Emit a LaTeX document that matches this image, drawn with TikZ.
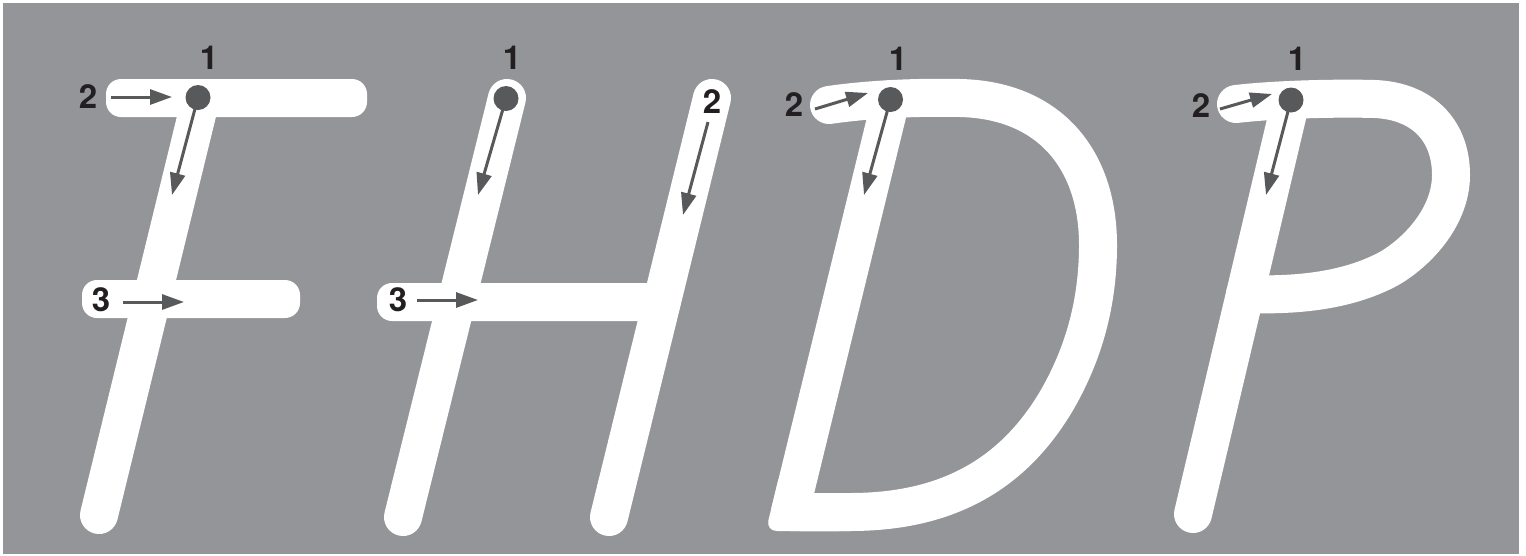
\documentclass[tikz,border=0pt]{standalone}
\usepackage{fontspec}
\setmainfont{TeX Gyre Heros}
\usetikzlibrary{arrows.meta}
\definecolor{bg}{RGB}{147,149,152}
\definecolor{ink}{RGB}{88,89,91}
\definecolor{numc}{RGB}{35,31,32}
\tikzset{
  letter/.style={draw=white, line width=38pt, line cap=round, line join=round},
  barbox/.style={fill=white, rounded corners=15pt},
  arr/.style={draw=ink, line width=3pt, -{Triangle[length=22pt,width=15pt]}},
  dotnode/.style={circle, fill=ink, minimum size=25pt, inner sep=0pt},
  num/.style={font=\bfseries\fontsize{33}{33}\selectfont, text=numc, inner sep=0pt}
}
\begin{document}
\begin{tikzpicture}[x=1pt,y=-1pt]
\useasboundingbox (0,0) rectangle (1526,555);
\fill[white] (0,0) rectangle (1526,555);
\fill[bg] (3,3) rectangle (1519,554);

% ---------- F ----------
\fill[barbox] (106,79) rectangle (367,117);
\fill[barbox] (82,280) rectangle (300,318);
\draw[letter] (201,98) -- (99,515);
% ---------- H ----------
\draw[letter] (507,98) -- (403,517);
\draw[letter] (712,98) -- (609,517);
\fill[barbox] (377,283) rectangle (660,321);
% ---------- D ----------
\draw[letter] (829,105) .. controls (870,99) and (920,97) .. (960,98)
  .. controls (1050,100) and (1098,160) .. (1098,245)
  .. controls (1098,310) and (1080,360) .. (1057,400)
  .. controls (1010,480) and (940,512) .. (850,512) -- (800,512);
\draw[letter] (891,99) -- (790,512) -- (850,512);
\fill[white, rounded corners=11pt] (780.7,470) -- (765.8,531) -- (850,531) -- (800,505) -- cycle;
% ---------- P ----------
\draw[letter] (1236,104) .. controls (1280,99) and (1340,98) .. (1375,99)
  .. controls (1422,101) and (1451,130) .. (1451,175)
  .. controls (1451,215) and (1420,250) .. (1390,268)
  .. controls (1350,290) and (1300,296) .. (1245,294);
\draw[letter] (1291,100) -- (1193,514);

% ---------- F marks ----------
\node[num] (f1) at (209,58) {1};
\node[num] (f2) at (88,97) {2};
\node[num] (f3) at (101,300) {3};
\node[dotnode] (fd) at (198,97.5) {};
\coordinate (f2s) at (111,97);
\coordinate (f2e) at (172,97);
\coordinate (fde) at (172,195);
\coordinate (f3s) at (123,302);
\coordinate (f3e) at (184,302);
\draw[arr] (f2s) -- (f2e);
\draw[arr] (fd.center) -- (fde);
\draw[arr] (f3s) -- (f3e);

% ---------- H marks ----------
\node[num] (h1) at (512,58) {1};
\node[num] (h2) at (712,102) {2};
\node[num] (h3) at (398,300) {3};
\node[dotnode] (hd) at (506,98.5) {};
\coordinate (hde) at (478,195);
\coordinate (h2s) at (708,122);
\coordinate (h2e) at (683,215);
\coordinate (h3s) at (417,300);
\coordinate (h3e) at (478,300);
\draw[arr] (hd.center) -- (hde);
\draw[arr] (h2s) -- (h2e);
\draw[arr] (h3s) -- (h3e);

% ---------- D marks ----------
\node[num] (d1) at (898,59) {1};
\node[num] (d2) at (794,105) {2};
\node[dotnode] (dd) at (890.5,99.5) {};
\coordinate (d2s) at (815,109);
\coordinate (d2e) at (868,93);
\coordinate (dde) at (864,195);
\draw[arr] (d2s) -- (d2e);
\draw[arr] (dd.center) -- (dde);

% ---------- P marks ----------
\node[num] (p1) at (1297,59) {1};
\node[num] (p2) at (1201,106) {2};
\node[dotnode] (pd) at (1291,100) {};
\coordinate (p2s) at (1220,109);
\coordinate (p2e) at (1272,94);
\coordinate (pde) at (1266,195);
\draw[arr] (p2s) -- (p2e);
\draw[arr] (pd.center) -- (pde);
\end{tikzpicture}
\end{document}
